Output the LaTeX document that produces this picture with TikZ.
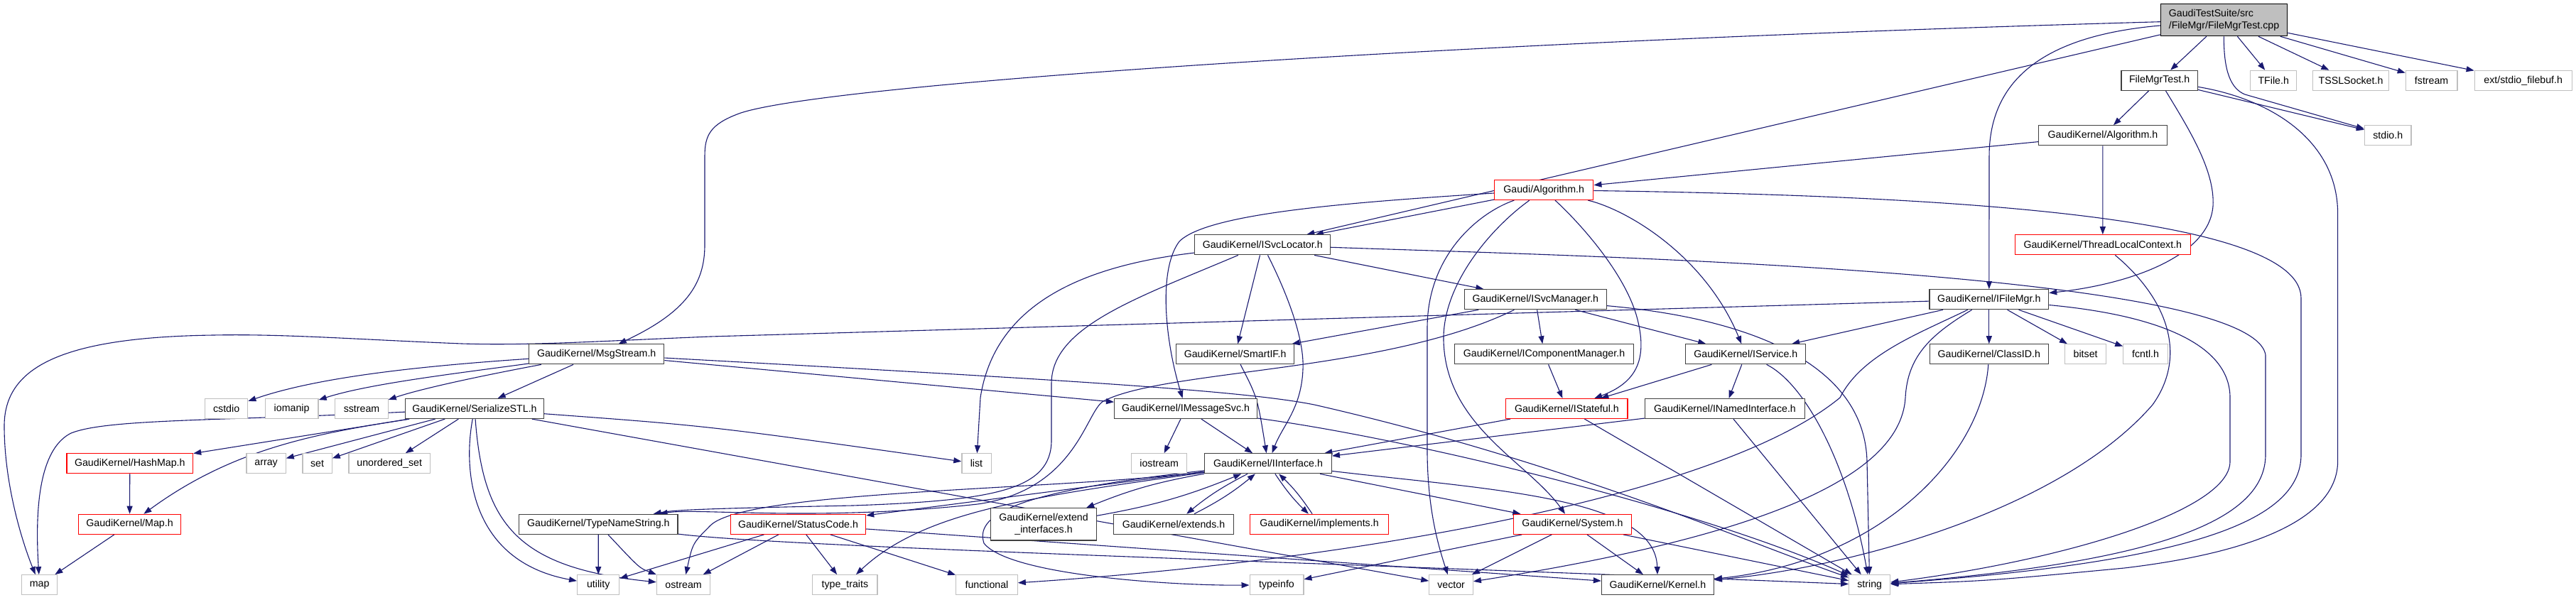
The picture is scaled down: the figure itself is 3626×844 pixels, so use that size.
\documentclass[tikz,border=0pt]{standalone}
\usepackage{fontspec}
\setmainfont{Liberation Sans}
\usetikzlibrary{arrows.meta}
\pgfdeclarelayer{background}
\pgfsetlayers{background,main}
\definecolor{edgec}{HTML}{191970}
\definecolor{dk}{HTML}{404040}
\definecolor{lg}{HTML}{BFBFBF}
\definecolor{rd}{HTML}{FF0000}
\begin{document}
\begin{tikzpicture}[x=1pt,y=-1pt,
  font=\fontsize{14.2}{17}\selectfont,
  box/.style={rectangle, line width=1.2pt, fill=white, inner sep=0pt, minimum height=28pt, align=center},
  gk/.style={box, draw=dk},
  ex/.style={box, draw=lg},
  tr/.style={box, draw=rd},
  e/.style={draw=edgec, line width=1.1pt, -{Triangle[length=11pt,width=8pt]}}]
\useasboundingbox (0,0) rectangle (3626,844);
% row 0
\node[box, draw=black, fill=lg, minimum width=178.3, minimum height=45, align=left] (root) at (3130.5,28.2) {GaudiTestSuite/src\\/FileMgr/FileMgrTest.cpp};
% row 1
\node[gk, minimum width=107.4] (fmth) at (3039.6,113.3) {FileMgrTest.h};
\node[ex, minimum width=64.9] (tfile) at (3200.2,113.3) {TFile.h};
\node[ex, minimum width=107.5] (tssl) at (3309,113.3) {TSSLSocket.h};
\node[ex, minimum width=72.6] (fstream) at (3422.6,113.3) {fstream};
\node[ex, minimum width=137.1] (extsf) at (3551.7,113.3) {ext/stdio\_filebuf.h};
% row 2
\node[gk, minimum width=180.7] (gkalg) at (2959.9,190.8) {GaudiKernel/Algorithm.h};
\node[ex, minimum width=65.6] (stdioh) at (3361.2,190.8) {stdio.h};
% row 3
\node[tr, minimum width=139.3] (galg) at (2173.2,267.5) {Gaudi/Algorithm.h};
% row 4
\node[tr, minimum width=246.9] (tlc) at (2959.8,344.8) {GaudiKernel/ThreadLocalContext.h};
\node[gk, minimum width=190.7] (isvcloc) at (1777.2,344.8) {GaudiKernel/ISvcLocator.h};
% row 5
\node[gk, minimum width=167.7] (ifilemgr) at (2799.8,421.7) {GaudiKernel/IFileMgr.h};
\node[gk, minimum width=200.2] (isvcmgr) at (2161.3,421.7) {GaudiKernel/ISvcManager.h};
% row 6
\node[gk, minimum width=166.6] (classid) at (2799.8,498.8) {GaudiKernel/ClassID.h};
\node[ex, minimum width=57.9] (bitset) at (2935.6,498.8) {bitset};
\node[ex, minimum width=62.6] (fcntl) at (3020.1,498.8) {fcntl.h};
\node[gk, minimum width=165.8] (smartif) at (1738.6,498.8) {GaudiKernel/SmartIF.h};
\node[gk, minimum width=251.3] (icompmgr) at (2173.5,498.8) {GaudiKernel/IComponentManager.h};
\node[gk, minimum width=168.9] (iservice) at (2457.3,498.8) {GaudiKernel/IService.h};
\node[gk, minimum width=190.2] (msgstream) at (839.7,498.8) {GaudiKernel/MsgStream.h};
% row 7
\node[ex, minimum width=60.3] (cstdio) at (318.6,575.5) {cstdio};
\node[ex, minimum width=74.9] (iomanip) at (410.6,575.5) {iomanip};
\node[ex, minimum width=74.3] (sstream) at (509,575.5) {sstream};
\node[gk, minimum width=195.1] (serstl) at (668,575.5) {GaudiKernel/SerializeSTL.h};
\node[gk, minimum width=200.8] (imsgsvc) at (1669,575.5) {GaudiKernel/IMessageSvc.h};
\node[tr, minimum width=171.2] (istateful) at (2205.4,575.5) {GaudiKernel/IStateful.h};
\node[gk, minimum width=225.2] (inamed) at (2428,575.5) {GaudiKernel/INamedInterface.h};
% row 8
\node[tr, minimum width=177.6] (hashmap) at (182.8,652.8) {GaudiKernel/HashMap.h};
\node[ex, minimum width=55.1] (array) at (374.6,652.8) {array};
\node[ex, minimum width=41.2] (set) at (446.6,652.8) {set};
\node[ex, minimum width=114.3] (uset) at (548.2,652.8) {unordered\_set};
\node[ex, minimum width=41.2] (list) at (1374.5,652.8) {list};
\node[ex, minimum width=78.4] (iostream) at (1631.6,652.8) {iostream};
\node[gk, minimum width=178.6] (iinterface) at (1785,652.8) {GaudiKernel/IInterface.h};
% row 9
\node[tr, minimum width=144.5] (mapgk) at (182.5,738.3) {GaudiKernel/Map.h};
\node[gk, minimum width=223.3] (tns) at (842.3,738.3) {GaudiKernel/TypeNameString.h};
\node[tr, minimum width=190.3] (statuscode) at (1123.5,738.3) {GaudiKernel/StatusCode.h};
\node[gk, minimum width=149.1, minimum height=45.3] (extif) at (1469,738.3) {GaudiKernel/extend\\\_interfaces.h};
\node[gk, minimum width=168.9] (extends) at (1652,738.3) {GaudiKernel/extends.h};
\node[tr, minimum width=194.8] (implements) at (1857,738.3) {GaudiKernel/implements.h};
\node[tr, minimum width=165.4] (system) at (2213.5,738.3) {GaudiKernel/System.h};
% row 10
\node[ex, minimum width=49.9] (map) at (55.7,823.7) {map};
\node[ex, minimum width=59.2] (utility) at (842.2,823.7) {utility};
\node[ex, minimum width=75.4] (ostream) at (962.1,823.7) {ostream};
\node[ex, minimum width=91.1] (typetraits) at (1189.4,823.7) {type\_traits};
\node[ex, minimum width=86.5] (functional) at (1389,823.7) {functional};
\node[ex, minimum width=75.8] (typeinfo) at (1797,823.7) {typeinfo};
\node[ex, minimum width=61.5] (vector) at (2042.6,823.7) {vector};
\node[gk, minimum width=157.9] (kernel) at (2333.4,823.7) {GaudiKernel/Kernel.h};
\node[ex, minimum width=58] (string) at (2631.7,823.7) {string};

\begin{pgfonlayer}{background}
% root
\draw[e] (root) -- (fmth);
\draw[e] (root) -- (tfile);
\draw[e] (root) -- (tssl);
\draw[e] (root) -- (fstream);
\draw[e] (root) -- (extsf);
\draw[e] (root) .. controls (3130,100) and (3140,125) .. (3160,133) -- (stdioh);
\draw[e] (root) .. controls (2880,50) and (2800,110) .. (2800,220) -- (ifilemgr);
\draw[e] (root) .. controls (2000,60) and (1150,120) .. (1040,160) .. controls (1000,175) and (992,190) .. (992,220) -- (992,345) .. controls (992,400) and (965,440) .. (msgstream);
\draw[e] (root) -- (isvcloc);
% FileMgrTest.h
\draw[e] (fmth) -- (gkalg);
\draw[e] (fmth) -- (stdioh);
\draw[e] (fmth) .. controls (3200,140) and (3290,200) .. (3290.6,300) -- (3290.6,650) .. controls (3290,720) and (3200,775) .. (2990,800) .. controls (2800,818) .. (string);
\draw[e] (fmth) .. controls (3080,180) and (3118,240) .. (3115,290) .. controls (3110,360) and (3000,400) .. (ifilemgr);
% GaudiKernel/Algorithm.h
\draw[e] (gkalg) -- (galg);
\draw[e] (gkalg) -- (tlc);
% Gaudi/Algorithm.h
\draw[e] (galg) -- (isvcloc);
\draw[e] (galg) .. controls (1900,285) and (1700,300) .. (1660,340) .. controls (1630,380) and (1640,480) .. (imsgsvc);
\draw[e] (galg) .. controls (2080,300) and (2010,360) .. (2009,460) -- (2009,640) .. controls (2010,720) and (2025,770) .. (vector);
\draw[e] (galg) .. controls (2100,320) and (2030,400) .. (2032,480) .. controls (2035,600) and (2150,650) .. (system);
\draw[e] (galg) .. controls (2230,320) and (2290,390) .. (2305,450) .. controls (2320,510) and (2300,540) .. (istateful);
\draw[e] (galg) .. controls (2290,295) and (2400,360) .. (iservice);
\draw[e] (galg) .. controls (2700,275) and (3239,300) .. (3239,420) -- (3239,640) .. controls (3239,730) and (3100,790) .. (string);
% ISvcLocator
\draw[e] (isvcloc) -- (isvcmgr);
\draw[e] (isvcloc) -- (smartif);
\draw[e] (isvcloc) .. controls (1815,420) and (1836,480) .. (1834,520) .. controls (1832,575) and (1805,600) .. (iinterface);
\draw[e] (isvcloc) .. controls (1520,375) and (1400,430) .. (1380,560) -- (list);
\draw[e] (isvcloc) .. controls (1600,420) and (1480,460) .. (1480,540) -- (1480,620) .. controls (1480,690) and (1400,705) .. (1200,712) .. controls (1000,716) and (950,718) .. (tns);
\draw[e] (isvcloc) .. controls (2200,360) and (3170,380) .. (3189,500) -- (3189,640) .. controls (3189,730) and (3050,790) .. (string);
% SmartIF
\draw[e] (smartif) .. controls (1770,560) .. (iinterface);
% ISvcManager
\draw[e] (isvcmgr) -- (smartif);
\draw[e] (isvcmgr) -- (icompmgr);
\draw[e] (isvcmgr) -- (iservice);
\draw[e] (isvcmgr) .. controls (2480,450) and (2625,520) .. (2628,650) -- (string);
\draw[e] (isvcmgr) .. controls (1950,525) and (1640,520) .. (1553,565) .. controls (1528,580) and (1515,690) .. (1376,710) .. controls (1150,735) and (980,715) .. (tns);
% IFileMgr
\draw[e] (ifilemgr) -- (iservice);
\draw[e] (ifilemgr) -- (classid);
\draw[e] (ifilemgr) -- (bitset);
\draw[e] (ifilemgr) -- (fcntl);
\draw[e] (ifilemgr) .. controls (3050,445) and (3139,490) .. (3139,560) -- (3139,650) .. controls (3139,720) and (2900,790) .. (string);
\draw[e] (ifilemgr) -- (1000,474) .. controls (850,480) and (750,487) .. (650,484) .. controls (500,478) and (400,470) .. (300,472) .. controls (80,475) and (6,520) .. (6,600) .. controls (6,680) and (30,760) .. (map);
\draw[e] (ifilemgr) .. controls (2700,470) and (2620,500) .. (2590,560) .. controls (2420,700) and (1900,790) .. (functional);
\draw[e] (ifilemgr) .. controls (2720,470) and (2685,500) .. (2682,560) .. controls (2675,680) and (2450,760) .. (vector);
% ClassID, ThreadLocalContext
\draw[e] (classid) .. controls (2790,640) and (2650,790) .. (kernel);
\draw[e] (tlc) .. controls (3050,420) and (3080,500) .. (3030,570) .. controls (2900,720) and (2600,800) .. (kernel);
% IService, IComponentManager
\draw[e] (iservice) -- (istateful);
\draw[e] (iservice) -- (inamed);
\draw[e] (iservice) .. controls (2540,540) and (2600,650) .. (string);
\draw[e] (icompmgr) -- (istateful);
% MsgStream
\draw[e] (msgstream) .. controls (600,515) and (450,530) .. (cstdio);
\draw[e] (msgstream) .. controls (650,525) and (520,540) .. (iomanip);
\draw[e] (msgstream) .. controls (700,525) and (600,545) .. (sstream);
\draw[e] (msgstream) -- (serstl);
\draw[e] (msgstream) -- (imsgsvc);
\draw[e] (msgstream) .. controls (1500,535) and (1750,550) .. (1850,570) .. controls (2200,650) and (2450,760) .. (string);
% SerializeSTL
\draw[e] (serstl) .. controls (300,593) and (150,590) .. (100,610) .. controls (60,630) and (48,700) .. (map);
\draw[e] (serstl) -- (hashmap);
\draw[e] (serstl) .. controls (450,610) and (330,630) .. (mapgk);
\draw[e] (serstl) -- (array);
\draw[e] (serstl) -- (set);
\draw[e] (serstl) -- (uset);
\draw[e] (serstl) .. controls (652,660) and (660,790) .. (utility);
\draw[e] (serstl) .. controls (680,740) and (730,800) .. (ostream);
\draw[e] (serstl) -- (vector);
\draw[e] (serstl) .. controls (1000,600) .. (list);
% IMessageSvc
\draw[e] (imsgsvc) -- (iostream);
\draw[e] (imsgsvc) -- (iinterface);
\draw[e] (imsgsvc) .. controls (2000,620) and (2400,720) .. (string);
% IInterface
\draw[e] (iinterface) to[bend right=6] (extif);
\draw[e] (extif) to[bend right=6] (iinterface);
\draw[e] (iinterface) to[bend right=6] (extends);
\draw[e] (extends) to[bend right=6] (iinterface);
\draw[e] (iinterface) to[bend right=6] (implements);
\draw[e] (implements) to[bend right=6] (iinterface);
\draw[e] (iinterface) -- (statuscode);
\draw[e] (iinterface) .. controls (1450,700) and (1300,720) .. (typetraits);
\draw[e] (iinterface) .. controls (1450,690) and (1370,720) .. (1385,765) .. controls (1420,810) and (1650,825) .. (typeinfo);
\draw[e] (iinterface) .. controls (1500,690) and (1050,690) .. (1000,740) .. controls (975,765) .. (ostream);
\draw[e] (iinterface) -- (system);
\draw[e] (iinterface) .. controls (2100,690) and (2330,700) .. (kernel);
% StatusCode
\draw[e] (statuscode) -- (utility);
\draw[e] (statuscode) -- (ostream);
\draw[e] (statuscode) -- (typetraits);
\draw[e] (statuscode) -- (functional);
\draw[e] (statuscode) -- (kernel);
% TypeNameString
\draw[e] (tns) -- (utility);
\draw[e] (tns) .. controls (900,800) .. (ostream);
\draw[e] (tns) .. controls (1100,770) and (1800,790) .. (string);
% System
\draw[e] (system) -- (typeinfo);
\draw[e] (system) -- (vector);
\draw[e] (system) -- (kernel);
\draw[e] (system) -- (string);
% IStateful, INamedInterface
\draw[e] (istateful) -- (iinterface);
\draw[e] (istateful) -- (string);
\draw[e] (inamed) -- (iinterface);
\draw[e] (inamed) -- (string);
% maps
\draw[e] (hashmap) -- (mapgk);
\draw[e] (mapgk) -- (map);
\end{pgfonlayer}
\end{tikzpicture}
\end{document}
